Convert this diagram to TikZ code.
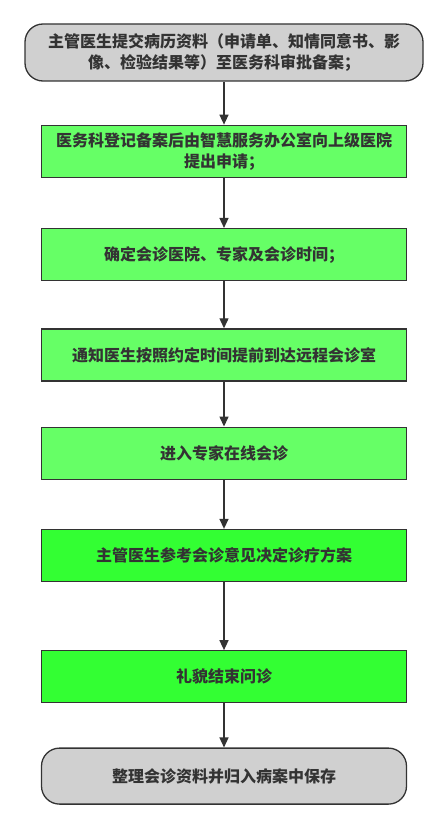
\documentclass[tikz,border=0pt]{standalone}
\usepackage{fontspec}
\newfontfamily\cjk{Noto Sans CJK SC}
\usepackage{tikz}
\usetikzlibrary{positioning, arrows.meta}
\usepackage{xcolor}
\definecolor{flowdark}{HTML}{333333}
\definecolor{flowgray}{HTML}{D0D0D0}
\definecolor{flowgreen}{HTML}{66FF66}
\definecolor{flowlime}{HTML}{33FF33}

\begin{document}
\begin{tikzpicture}[x=1pt, y=1pt,
          term/.style={draw=flowdark, fill=flowgray, line width=1.3pt, rounded corners=18pt, font=\cjk\bfseries\fontsize{16}{21}\selectfont, text=flowdark, minimum width=365pt, minimum height=56pt, align=center},
          stepbox/.style={draw=flowdark, fill=flowgreen, line width=1.3pt, font=\cjk\bfseries\fontsize{16}{21}\selectfont, text=flowdark, minimum width=365pt, minimum height=52pt, align=center},
          flow/.style={-{Triangle[length=10pt, width=9pt]}, line width=1.4pt, flowdark}]
        \useasboundingbox (0,0) rectangle (447,-829);
        \node[term, minimum width=398pt, minimum height=57pt] (submit) at (224,-52.5) {主管医生提交病历资料（申请单、知情同意书、影\\像、检验结果等）至医务科审批备案；};
        \node[stepbox, below=43pt of submit] (apply) {医务科登记备案后由智慧服务办公室向上级医院\\提出申请；};
        \node[stepbox, below=50pt of apply] (confirm) {确定会诊医院、专家及会诊时间；};
        \node[stepbox, below=47pt of confirm] (notify) {通知医生按照约定时间提前到达远程会诊室};
        \node[stepbox, below=45pt of notify] (online) {进入专家在线会诊};
        \node[stepbox, fill=flowlime, below=49pt of online] (decide) {主管医生参考会诊意见决定诊疗方案};
        \node[stepbox, fill=flowlime, below=68pt of decide] (finish) {礼貌结束问诊};
        \node[term, below=44pt of finish] (archive) {整理会诊资料并归入病案中保存};
        \draw[flow] (submit) -- (apply);
        \draw[flow] (apply) -- (confirm);
        \draw[flow] (confirm) -- (notify);
        \draw[flow] (notify) -- (online);
        \draw[flow] (online) -- (decide);
        \draw[flow] (decide) -- (finish);
        \draw[flow] (finish) -- (archive);
      \end{tikzpicture}
\end{document}
